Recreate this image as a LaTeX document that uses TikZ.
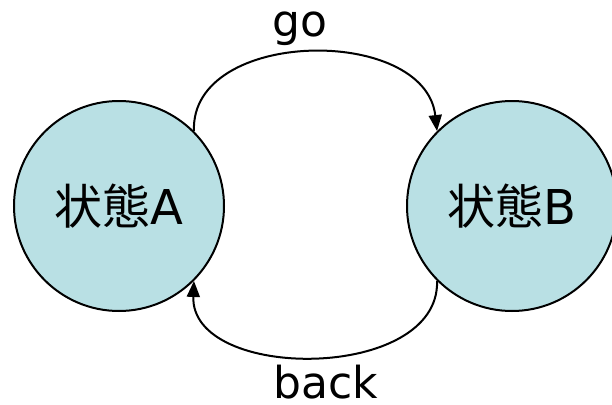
\documentclass[tikz,border=0pt]{standalone}
\usepackage{fontspec}
\setmainfont{DejaVu Sans}
\newfontfamily\cjk{Noto Sans CJK JP}
\usetikzlibrary{arrows.meta}
\definecolor{statefill}{RGB}{185,224,228}

\begin{document}
\begin{tikzpicture}[x=1pt,y=-1pt,>={Triangle[length=16pt,width=13pt]},
    statenode/.style={circle,draw,line width=2pt,fill=statefill,minimum size=210pt,inner sep=0pt,font=\fontsize{48}{48}\selectfont},
    lbl/.style={font=\fontsize{44}{44}\selectfont,inner sep=0pt,anchor=base}]
    \useasboundingbox (0,0) rectangle (612,404);
    % the two states
    \node[statenode] (A) at (119,206) {{\cjk 状態}A};
    \node[statenode] (B) at (512,206) {{\cjk 状態}B};
    % transitions between them
    \draw[->,line width=2pt] (A.45) .. controls (190,28) and (425,25) .. (B.135);
    \draw[->,line width=2pt] (B.225) .. controls (440,382) and (190,382) .. (A.-45);
    \node[lbl] (go) at (300,37) {go};
    \node[lbl,text depth=0pt] (back) at (326,398) {back};
\end{tikzpicture}
\end{document}
